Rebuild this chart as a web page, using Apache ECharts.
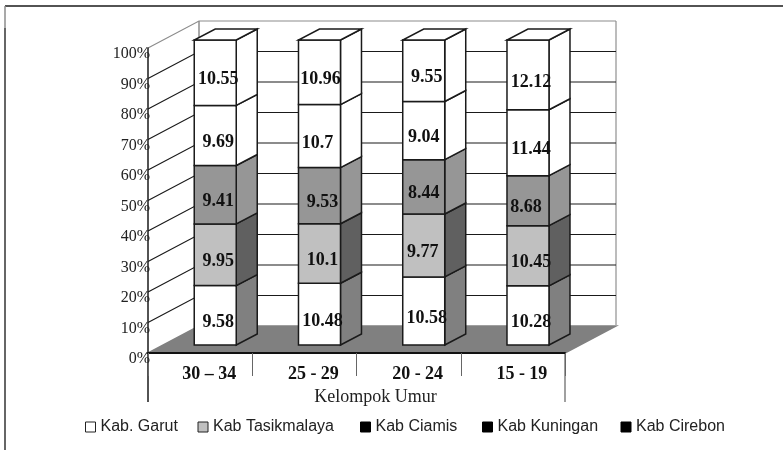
<!DOCTYPE html>
<html>
<head>
<meta charset="utf-8">
<style>html,body{margin:0;padding:0;background:#fff}#chart{width:783px;height:450px}</style>
<script src="https://cdn.jsdelivr.net/npm/echarts@6/dist/echarts.min.js"></script>
</head>
<body>
<div id="chart"></div>
<script>
// Age groups along the category axis
const categories = ['30 – 34', '25 - 29', '20 - 24', '15 - 19'];
const percentTicks = [0, 10, 20, 30, 40, 50, 60, 70, 80, 90, 100];

// Rates per district, stacked bottom to top and normalised to 100%
const garut = [9.58, 10.48, 10.58, 10.28];
const tasikmalaya = [9.95, 10.1, 9.77, 10.45];
const ciamis = [9.41, 9.53, 8.44, 8.68];
const kuningan = [9.69, 10.7, 9.04, 11.44];
const cirebon = [10.55, 10.96, 9.55, 12.12];

const districts = [
  { name: 'Kab. Garut', values: garut, front: '#ffffff', side: '#808080', key: '#ffffff', keyBorder: '#222', keyLeft: 80 },
  { name: 'Kab Tasikmalaya', values: tasikmalaya, front: '#c0c0c0', side: '#606060', key: '#c0c0c0', keyBorder: '#222', keyLeft: 192.5 },
  { name: 'Kab Ciamis', values: ciamis, front: '#969696', side: '#969696', key: '#000000', keyBorder: '#000', keyLeft: 355 },
  { name: 'Kab Kuningan', values: kuningan, front: '#ffffff', side: '#ffffff', key: '#000000', keyBorder: '#000', keyLeft: 477 },
  { name: 'Kab Cirebon', values: cirebon, front: '#ffffff', side: '#ffffff', key: '#000000', keyBorder: '#000', keyLeft: 615.5 }
];

// Horizontal nudges for value labels, by series and category
const labelNudges = {
  '1,2': -4,
  '2,2': -3,
  '2,3': -5,
  '3,1': -5,
  '3,2': -3,
  '4,1': -2
};

// Oblique projection of the pseudo-3D box
const WALL_DX = 51, WALL_DY = -27;   // front plane to back wall
const BAR_NEAR = 8;                  // bar front face, measured back from the front plane
const BAR_DX = 21, BAR_DY = -11;     // bar depth
const BAR_WIDTH = 42;
const shear = WALL_DX / -WALL_DY;

const totals = categories.map((_, i) => districts.reduce((sum, d) => sum + d.values[i], 0));
const running = categories.map(() => 0);
const stacked = districts.map(d => d.values.map((v, i) => {
  const base = running[i];
  running[i] += v / totals[i] * 100;
  return [i, base, running[i], v];
}));

function poly(points, fill, stroke) {
  return {
    type: 'polygon',
    shape: { points },
    style: { fill, stroke: stroke || '#1a1a1a', lineWidth: 1.5, lineJoin: 'miter' }
  };
}

function renderBar(front, side, isTop) {
  return function (params, api) {
    const cat = api.value(0);
    const cx = api.coord([cat, 0])[0] + BAR_NEAR * shear;
    const y0 = api.coord([cat, api.value(1)])[1] - BAR_NEAR;
    const y1 = api.coord([cat, api.value(2)])[1] - BAR_NEAR;
    const l = cx - BAR_WIDTH / 2, r = cx + BAR_WIDTH / 2;
    const children = [
      poly([[r, y0], [r + BAR_DX, y0 + BAR_DY], [r + BAR_DX, y1 + BAR_DY], [r, y1]], side),
      poly([[l, y0], [r, y0], [r, y1], [l, y1]], front)
    ];
    if (isTop) {
      children.push(poly([[l, y1], [r, y1], [r + BAR_DX, y1 + BAR_DY], [l + BAR_DX, y1 + BAR_DY]], '#ffffff'));
    }
    return { type: 'group', children };
  };
}

function renderLabel(seriesIndex) {
  return function (params, api) {
    const cat = api.value(0);
    const cx = api.coord([cat, 0])[0] + BAR_NEAR * shear;
    const y0 = api.coord([cat, api.value(1)])[1] - BAR_NEAR;
    const y1 = api.coord([cat, api.value(2)])[1] - BAR_NEAR;
    return {
      type: 'text',
      z2: 10,
      style: {
        x: cx + 3 + (labelNudges[seriesIndex + ',' + cat] || 0),
        y: (y0 + y1) / 2 + 7,
        text: String(api.value(3)),
        align: 'center',
        verticalAlign: 'middle',
        fill: '#111',
        font: 'bold 18px "Liberation Serif", serif'
      }
    };
  };
}

function renderWalls(params, api) {
  const box = params.coordSys;
  const y = api.coord([0, api.value(0)])[1];
  const v = api.value(0);
  const left = box.x, right = box.x + box.width;
  const children = [];
  if (v === 0) {
    children.push(poly([[left, y], [right, y], [right + WALL_DX, y + WALL_DY], [left + WALL_DX, y + WALL_DY]], '#808080', '#808080'));
    const yTop = api.coord([0, 100])[1] + WALL_DY;
    children.push({ type: 'line', shape: { x1: left + WALL_DX, y1: y + WALL_DY, x2: left + WALL_DX, y2: yTop }, style: { stroke: '#8c8c8c', lineWidth: 1.5 } });
    children.push({ type: 'line', shape: { x1: right + WALL_DX, y1: y + WALL_DY, x2: right + WALL_DX, y2: yTop }, style: { stroke: '#a6a6a6', lineWidth: 1.5 } });
    children.push({ type: 'line', shape: { x1: left, y1: y, x2: left, y2: y + 49 }, style: { stroke: '#1a1a1a', lineWidth: 1.5 } });
    children.push({ type: 'line', shape: { x1: right, y1: y, x2: right, y2: y + 49 }, style: { stroke: '#808080', lineWidth: 1.5 } });
  } else {
    const stroke = v === 100 ? '#8c8c8c' : '#1a1a1a';
    children.push({
      type: 'polyline',
      shape: { points: [[left, y], [left + WALL_DX, y + WALL_DY], [right + WALL_DX, y + WALL_DY]] },
      style: { stroke, lineWidth: 1.2, fill: null }
    });
  }
  return { type: 'group', children };
}

const barSeries = districts.map((d, s) => ({
  type: 'custom',
  name: d.name,
  coordinateSystem: 'cartesian2d',
  clip: false,
  silent: true,
  z: 3 + s,
  itemStyle: { color: d.key },
  encode: { x: 0, y: 2 },
  renderItem: renderBar(d.front, d.side, s === districts.length - 1),
  data: stacked[s]
}));

const labelSeries = districts.map((d, s) => ({
  type: 'custom',
  coordinateSystem: 'cartesian2d',
  clip: false,
  silent: true,
  z: 20,
  encode: { x: 0, y: 2 },
  renderItem: renderLabel(s),
  data: stacked[s]
}));

const wallSeries = {
  type: 'custom',
  coordinateSystem: 'cartesian2d',
  clip: false,
  silent: true,
  z: 1,
  encode: { y: 0 },
  renderItem: renderWalls,
  data: percentTicks.map(v => [v])
};

const chart = echarts.init(document.getElementById('chart'), null, { renderer: 'canvas' });
chart.setOption({
  animation: false,
  backgroundColor: '#ffffff',
  grid: { left: 148, right: 218, top: 48, bottom: 97 },
  xAxis: {
    type: 'category',
    data: categories,
    z: 8,
    axisLine: { show: true, lineStyle: { color: '#111', width: 2 } },
    axisTick: { show: true, length: 23, lineStyle: { color: '#666', width: 1 } },
    axisLabel: {
      color: '#111',
      margin: 12,
      padding: [0, 0, 0, 18],
      fontFamily: '"Liberation Serif", serif',
      fontWeight: 'bold',
      fontSize: 18
    },
    name: 'Kelompok Umur',
    nameLocation: 'middle',
    nameGap: 35,
    nameTextStyle: { color: '#222', padding: [0, 0, 0, 38], fontFamily: '"Liberation Serif", serif', fontSize: 18 }
  },
  yAxis: {
    type: 'value',
    min: 0,
    max: 100,
    interval: 10,
    z: 8,
    splitLine: { show: false },
    axisTick: { show: false },
    axisLine: { show: true, lineStyle: { color: '#1a1a1a', width: 1.5 } },
    axisLabel: {
      color: '#222',
      margin: -2,
      verticalAlign: 'top',
      lineHeight: 12,
      fontFamily: '"Liberation Serif", serif',
      fontSize: 16,
      formatter: v => v + '%'
    }
  },
  legend: districts.map(d => ({
    left: d.keyLeft,
    top: 414,
    icon: 'rect',
    itemWidth: 10,
    itemHeight: 10,
    selectedMode: false,
    textStyle: { color: '#222', fontFamily: '"Liberation Sans", Arial, sans-serif', fontSize: 16 },
    data: [{
      name: d.name,
      itemStyle: { color: d.key, borderColor: d.keyBorder, borderWidth: 1 }
    }]
  })),
  graphic: [
    { type: 'line', silent: true, shape: { x1: 5, y1: 6, x2: 783, y2: 6 }, style: { stroke: '#1a1a1a', lineWidth: 1.5 } },
    { type: 'line', silent: true, shape: { x1: 5, y1: 6, x2: 5, y2: 28 }, style: { stroke: '#8c8c8c', lineWidth: 1.5 } },
    { type: 'line', silent: true, shape: { x1: 5, y1: 28, x2: 5, y2: 450 }, style: { stroke: '#333', lineWidth: 1.5 } }
  ],
  series: [wallSeries].concat(barSeries, labelSeries)
});
</script>
</body>
</html>
